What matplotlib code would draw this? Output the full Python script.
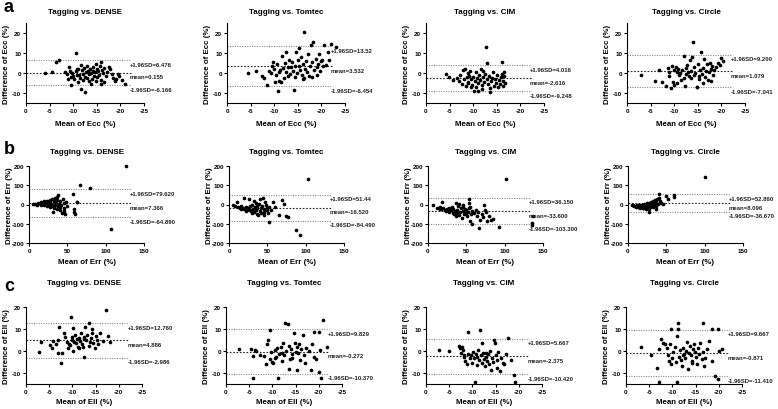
import matplotlib
matplotlib.use("Agg")
import matplotlib.pyplot as plt

plt.rcParams["font.family"] = ["Liberation Sans", "DejaVu Sans"]
plt.rcParams["font.weight"] = "bold"
plt.rcParams["axes.unicode_minus"] = False

# -----------------------------------------------------
# DATA  (mean of two methods, difference)
# -----------------------------------------------------
methods = ["DENSE", "Tomtec", "CIM", "Circle"]
params = ["Ecc", "Err", "Ell"]

ecc_dense = [(-4.1,0.0),(-5.5,0.7),(-6.4,5.4),(-6.9,6.6),(-8.3,0.5),(-8.7,-0.5),(-8.9,-3.2),(-9.1,3.0),(-9.3,1.0),(-9.5,-2.0),
             (-9.6,-6.1),(-9.8,0.2),(-10.0,-1.5),(-10.2,-3.0),(-10.5,10.0),(-10.6,0.8),(-10.8,-0.8),(-11.0,2.2),(-11.2,-1.0),(-11.4,-2.5),
             (-11.6,-8.1),(-11.7,4.0),(-11.9,1.5),(-12.0,-0.5),(-12.2,2.5),(-12.4,-1.8),(-12.6,-9.7),(-12.7,0.5),(-12.9,3.5),(-13.0,-2.5),
             (-13.2,1.0),(-13.4,-0.5),(-13.5,2.0),(-13.7,-5.5),(-13.8,0.0),(-14.0,-3.0),(-14.1,3.0),(-14.3,1.2),(-14.5,-1.5),(-14.6,0.5),
             (-14.8,4.5),(-15.0,2.0),(-15.1,-2.0),(-15.3,0.8),(-15.5,-1.0),(-15.6,3.5),(-15.8,-3.5),(-15.9,5.4),(-15.9,-5.5),(-16.1,1.5),
             (-16.3,-0.2),(-16.6,2.5),(-16.9,-1.5),(-17.2,0.5),(-17.5,3.0),(-17.9,2.0),(-18.2,-0.5),(-18.5,-2.5),(-19.1,-3.0),(-19.4,-0.5),
             (-19.7,-1.5),(-20.3,-3.5),(-20.9,-5.5),(-13.3,-4.0),(-12.1,-3.5),(-10.9,1.8),(-11.1,-4.5),(-14.9,-3.8),(-16.5,-4.5),(-18.8,-4.0)]
ecc_tomtec = [(-4.5,0.0),(-6.2,1.2),(-7.5,-1.4),(-7.8,-2.5),(-8.5,-6.1),(-9.0,1.0),(-9.4,0.0),(-9.5,3.4),(-9.7,5.4),(-10.0,2.0),
              (-10.3,-1.0),(-10.5,4.5),(-10.8,-9.0),(-11.1,-3.9),(-11.3,1.5),(-11.5,-4.7),(-11.7,8.5),(-11.9,2.5),(-12.2,5.0),(-12.5,10.5),
              (-12.6,0.5),(-12.9,3.0),(-13.2,6.3),(-13.4,-0.5),(-13.6,2.9),(-13.8,5.5),(-14.0,1.0),(-14.3,-8.5),(-14.4,3.5),(-14.6,10.5),
              (-14.8,0.0),(-15.0,6.5),(-15.2,12.5),(-15.3,3.7),(-15.5,1.5),(-15.7,8.0),(-15.9,-1.0),(-16.1,4.5),(-16.4,20.7),(-16.4,-2.5),
              (-16.6,2.0),(-16.8,6.0),(-17.0,0.5),(-17.2,9.5),(-17.4,-1.7),(-17.6,3.5),(-17.8,13.9),(-18.0,5.5),(-18.3,15.6),(-18.5,1.5),
              (-18.8,7.1),(-19.0,3.0),(-19.3,4.5),(-19.5,9.7),(-19.8,1.0),(-20.0,6.0),(-20.2,6.3),(-20.4,3.5),(-20.6,13.9),(-21.0,4.0),
              (-21.3,10.5),(-21.6,6.5),(-22.0,14.7),(-23.0,13.0),(-12.0,-2.5),(-13.0,-1.5),(-14.5,-2.0),(-16.0,-3.0),(-18.0,-2.0),(-19.0,-1.0),
              (-11.0,0.5),(-10.2,-4.5)]
ecc_cim = [(-4.2,-0.3),(-4.8,-1.8),(-5.8,-3.5),(-6.5,-2.5),(-7.0,-4.0),(-7.3,-1.0),(-7.6,-5.5),(-7.9,1.5),(-8.0,-3.0),(-8.2,2.0),
           (-8.4,-6.5),(-8.6,-2.0),(-8.8,0.0),(-9.0,-4.5),(-9.2,-1.5),(-9.4,1.0),(-9.6,-3.0),(-9.8,-6.0),(-10.0,-2.0),(-10.2,-8.8),
           (-10.4,-4.0),(-10.6,0.5),(-10.8,-2.5),(-11.0,-8.8),(-11.1,-5.0),(-11.3,-1.0),(-11.5,-3.5),(-11.7,2.0),(-11.9,-6.0),(-12.1,-2.0),
           (-12.3,-4.5),(-12.5,-0.5),(-12.8,13.2),(-12.9,-3.0),(-13.0,4.8),(-13.2,-5.5),(-13.4,-1.5),(-13.6,-9.3),(-13.8,-4.0),(-14.0,-2.5),
           (-14.2,0.5),(-14.4,-6.5),(-14.6,-3.0),(-14.8,-5.0),(-15.0,-1.0),(-15.2,-7.0),(-15.4,-3.5),(-15.6,-5.5),(-15.8,-2.0),(-16.0,-0.5),
           (-16.1,5.3),(-16.3,-4.0),(-16.4,-6.5),(-16.5,-1.5),(-16.6,0.5),(-16.7,-5.0),(-12.0,1.0),(-10.5,-6.8),(-9.5,-7.0),(-13.5,-7.5),
           (-11.8,-7.8),(-8.9,-4.8)]
ecc_circle = [(-3.0,-1.2),(-6.0,-4.0),(-6.8,1.5),(-7.5,-4.5),(-8.3,-6.5),(-8.6,2.5),(-8.8,-1.5),(-9.0,0.5),(-9.3,-7.5),(-9.5,3.5),
              (-9.7,-4.5),(-9.9,-6.0),(-10.0,1.5),(-10.3,3.0),(-10.6,0.5),(-10.9,2.0),(-11.2,0.0),(-11.5,-3.5),(-11.7,1.5),(-12.0,-2.5),
              (-12.1,8.5),(-12.3,-6.5),(-12.6,2.5),(-12.8,4.0),(-13.0,0.5),(-13.2,-1.5),(-13.4,6.5),(-13.6,1.0),(-13.8,8.0),(-14.0,15.5),
              (-14.1,-1.0),(-14.3,3.0),(-14.5,0.0),(-14.8,-6.8),(-14.9,-7.2),(-15.0,4.5),(-15.2,-1.5),(-15.5,1.5),(-15.7,10.3),(-15.9,-0.5),
              (-16.1,2.5),(-16.3,7.0),(-16.5,-2.0),(-16.7,1.0),(-16.9,4.5),(-17.1,-3.5),(-17.3,0.5),(-17.5,5.0),(-17.7,-4.0),(-17.9,2.0),
              (-18.1,3.5),(-18.3,-1.0),(-18.5,1.5),(-18.8,3.0),(-19.2,5.0),(-19.6,4.0),(-19.9,7.5),(-20.3,6.0),(-12.5,-0.5),(-11.0,-1.0),
              (-13.5,-2.5),(-15.3,-3.0),(-16.0,-5.0),(-10.5,-5.0)]

err_dense = [(5,5),(8,2),(10,-5),(12,10),(14,8),(16,15),(18,12),(20,18),(22,10),(24,20),(25,-3),(26,15),(28,25),(29,5),(30,-10),
             (30,30),(31,-40),(32,18),(33,-20),(34,35),(35,10),(35,-5),(36,40),(37,25),(38,-15),(38,50),(39,5),(40,-30),(41,20),(42,-2),
             (43,-45),(44,30),(45,10),(46,-20),(47,-48),(48,15),(50,-10),(33,0),(27,-15),(20,0),(15,-2),(36,-25),(41,-12),(45,-35),
             (58,55),(59,-23),(59,-40),(60,-49),(62,12),(63,15),(66.5,100),(79.6,87),(107,-127),(126.5,200),(23,-8),(39,-8),(28,12)]
err_tomtec = [(5,-5),(8,-10),(10,12),(12,-15),(14,-20),(16,-22),(18,-18),(19,35),(20,-25),(22,-15),(24,-30),(25,-20),(26,30),
              (27,-28),(28,-10),(29,-35),(30,0),(31,-25),(32,20),(33,-40),(34,-15),(35,-30),(35,10),(36,-50),(37,-20),(38,-55),(39,5),
              (40,-35),(41,30),(42,-45),(43,-10),(44,35),(45,-25),(46,-40),(47,15),(48,-5),(49,-30),(50,-20),(51,-45),(52,-15),(52.7,-89),
              (55,-30),(58,12),(60,-15),(65,-57),(69.5,23),(72,5),(74,-62),(77,-66),(87,-132),(93,-160),(102.7,130),(30,-45),(36,-8),
              (22,-35),(15,-8),(42,-20),(45,-55)]
err_cim = [(6,-5),(12,-20),(14,-18),(15,-25),(16,-15),(17,-22),(18,15),(20,-20),(22,-30),(24,-35),(25,-25),(27,-40),(28,-20),
           (30,-30),(31,-15),(32,-45),(33,-25),(34,-50),(35,-35),(36,10),(37,-60),(38,-30),(39,-10),(40,-55),(41,5),(42,-40),(43,-20),
           (44,-70),(45,-35),(46,0),(47,-50),(48,-25),(49,-45),(50,-30),(51,-60),(52,-40),(53,10),(53,30),(54,-20),(55,-85),(56,-50),
           (57,-35),(58,-100),(60,-45),(62,-30),(64,-60),(65,-40),(67,-120),(68,-80),(70,-50),(72,-65),(73,0),(74,-30),(75,-40),
           (77,-85),(80,-60),(82,-80),(85,-75),(92,-118),(101.7,131),(137,-61),(136,-96),(136,-105),(45,-15),(38,-45),(28,-35),(55,-15)]
err_circle = [(5,0),(7,-5),(8,-10),(10,-8),(11,-15),(12,-5),(13,-12),(14,-8),(15,0),(16,-18),(17,-10),(18,-3),(19,-20),(20,-8),
              (21,5),(22,-12),(23,-25),(24,0),(25,10),(26,-5),(27,-40),(28,8),(29,-15),(30,15),(30,-10),(31,5),(32,20),(33,-5),(34,10),
              (35,25),(35,0),(36,15),(37,-8),(38,30),(39,5),(40,35),(41,56),(42,20),(43,10),(45,5),(50,42),(52,30),(60.6,50),(60.6,38),
              (100.9,143),(20,-20),(25,-15),(28,-22),(33,-15),(15,-15),(36,-25)]

ell_dense = [(-2.9,-0.3),(-3.2,4.2),(-5.2,2.7),(-5.5,1.2),(-5.9,4.5),(-6.5,3.2),(-6.8,5.0),(-7.0,-0.8),(-7.2,10.8),(-7.5,-5.3),
             (-7.7,-0.8),(-8.1,8.3),(-8.4,6.5),(-8.8,4.2),(-9.2,3.0),(-9.5,2.7),(-9.7,15.6),(-9.9,5.0),(-10.1,10.3),(-10.2,0.0),
             (-10.4,4.0),(-10.6,7.3),(-10.8,3.5),(-11.0,5.5),(-11.2,2.0),(-11.4,6.0),(-11.6,4.5),(-11.8,8.0),(-12.0,3.0),(-12.2,2.0),
             (-12.4,-2.9),(-12.6,6.5),(-12.8,11.0),(-13.0,5.0),(-13.2,7.5),(-13.5,12.6),(-13.7,4.0),(-14.0,6.0),(-14.3,8.0),(-14.5,3.5),
             (-14.9,1.2),(-15.0,7.0),(-15.2,5.0),(-15.5,3.0),(-16.0,8.0),(-16.5,4.5),(-17.3,18.5),(-17.6,6.8),(-18.2,4.2),(-11.5,1.5),
             (-12.5,5.5),(-10.0,6.5),(-9.0,1.5),(-13.5,2.5),(-14.2,10.0)]
ell_tomtec = [(-2.9,0.9),(-5.3,0.9),(-5.8,-2.3),(-5.9,-12.4),(-6.2,0.3),(-6.5,0.0),(-7.3,-1.8),(-8.2,-2.3),(-8.6,-6.1),(-8.9,3.2),
              (-9.1,5.0),(-9.4,9.5),(-9.5,-3.8),(-9.7,-0.5),(-9.9,-4.8),(-10.1,-5.6),(-10.5,0.5),(-10.8,-2.8),(-11.0,1.5),(-11.3,-12.4),
              (-11.5,-1.5),(-11.8,2.0),(-12.0,-0.8),(-12.2,3.5),(-12.5,-2.0),(-12.8,12.6),(-13.0,0.0),(-13.3,12.3),(-13.5,-8.2),(-13.6,2.5),
              (-13.8,-3.8),(-14.0,1.0),(-14.3,-1.5),(-14.6,8.0),(-14.8,3.5),(-15.0,-0.5),(-15.2,2.0),(-15.4,-8.6),(-15.6,-1.0),(-15.8,3.0),
              (-16.0,-4.0),(-16.2,1.0),(-16.5,7.5),(-16.8,-2.0),(-17.0,-5.5),(-17.3,1.5),(-17.8,-0.2),(-18.3,-8.6),(-18.5,3.0),(-18.9,-2.9),
              (-19.0,8.8),(-19.3,-3.5),(-20.0,8.8),(-20.1,-9.4),(-20.3,0.5),(-20.4,-12.4),(-21.0,14.0),(-21.8,1.7),(-12.0,-4.5),(-10.6,-3.0),
              (-14.2,-3.0)]
ell_cim = [(-2.8,0.5),(-5.0,0.0),(-7.1,2.3),(-7.3,1.5),(-7.5,-1.0),(-7.7,2.0),(-7.9,0.5),(-8.1,-2.5),(-8.2,-1.8),(-8.4,-4.4),
           (-8.8,-6.0),(-9.1,8.8),(-9.4,-3.3),(-9.7,-2.0),(-10.0,-5.5),(-10.2,-0.5),(-10.4,-3.0),(-10.6,-13.9),(-10.8,-1.5),(-11.0,-6.5),
           (-11.2,0.5),(-11.4,-4.0),(-11.6,9.5),(-11.8,-2.0),(-12.0,3.5),(-12.1,-5.5),(-12.3,-1.0),(-12.5,-3.5),(-12.7,-7.0),(-12.9,-2.5),
           (-13.1,-4.5),(-13.3,-1.5),(-13.5,-6.0),(-13.7,0.0),(-14.0,-8.6),(-14.2,-3.0),(-14.4,-5.0),(-14.7,5.0),(-14.8,3.5),(-15.0,-2.0),
           (-15.2,-7.5),(-15.4,-4.0),(-15.6,-0.5),(-15.9,-9.0),(-16.2,-3.0),(-16.5,-5.5),(-16.8,-6.0),(-17.2,-1.5),(-17.6,5.8),(-18.4,-4.1),
           (-19.0,-10.9),(-19.1,-13.9),(-11.0,-2.8),(-13.0,-1.0),(-9.0,-1.5)]
ell_circle = [(-3.3,2.0),(-5.4,-2.0),(-6.7,-7.5),(-7.1,1.0),(-7.2,-14.3),(-7.5,5.3),(-8.0,3.5),(-8.5,3.0),(-8.8,1.5),(-9.0,-2.0),
              (-9.2,-4.5),(-9.4,3.0),(-9.6,9.8),(-9.8,-6.0),(-10.0,-3.0),(-10.2,-0.5),(-10.5,2.0),(-10.7,-5.0),(-10.9,6.8),(-10.9,-14.3),
              (-11.1,9.8),(-11.2,12.8),(-11.4,-2.5),(-11.6,0.5),(-11.8,-4.0),(-12.0,-6.8),(-12.2,1.5),(-12.5,-1.5),(-12.8,-3.0),(-13.0,0.0),
              (-13.2,4.0),(-13.4,-8.3),(-13.6,-1.0),(-13.8,2.5),(-14.0,-2.0),(-14.3,-4.5),(-14.5,1.0),(-14.7,3.0),(-14.9,-0.5),(-15.1,-2.5),
              (-15.3,-6.0),(-15.5,1.5),(-15.8,-1.5),(-16.0,3.5),(-16.3,-3.5),(-16.5,-0.5),(-16.7,12.8),(-16.9,-7.0),(-17.1,-3.0),(-17.4,1.0),
              (-17.8,4.5),(-18.5,-4.5),(-18.6,9.8),(-19.2,-11.3),(-19.8,9.8),(-19.9,-12.8),(-20.0,0.0),(-20.7,0.8),(-12.3,-2.0),(-14.2,-5.5)]

# limits of agreement as printed
ecc_upper = ["6.476", "13.52", "4.016", "9.200"]
ecc_mean = ["0.155", "3.532", "-2.616", "1.079"]
ecc_lower = ["-6.166", "-6.454", "-9.248", "-7.041"]
err_upper = ["79.620", "51.44", "36.150", "52.860"]
err_mean = ["7.366", "-16.520", "-33.600", "8.096"]
err_lower = ["-64.890", "-84.490", "-103.300", "-36.670"]
ell_upper = ["12.760", "9.829", "5.667", "9.667"]
ell_mean = ["4.886", "-0.272", "-2.375", "-0.871"]
ell_lower = ["-2.986", "-10.370", "-10.420", "-11.410"]

points = [[ecc_dense, ecc_tomtec, ecc_cim, ecc_circle],
          [err_dense, err_tomtec, err_cim, err_circle],
          [ell_dense, ell_tomtec, ell_cim, ell_circle]]
uppers = [ecc_upper, err_upper, ell_upper]
means = [ecc_mean, err_mean, ell_mean]
lowers = [ecc_lower, err_lower, ell_lower]

# -----------------------------------------------------
# LAYOUT (pixels)
# -----------------------------------------------------
W, H = 778, 410
row_lefts = [[26, 227, 426, 627], [29, 229, 428, 628], [26, 226, 426, 626]]
row_width = [118, 115, 116]
row_top = [24, 167, 308]
row_bottom = [104, 244, 385]
title_y = [12.5, 153, 284]
xlabel_y = [125, 263, 403]
letter_y = [8, 149, 287]
xlims = [(0, -25), (0, 150), (0, -25)]
ylims = [(-15, 25), (-200, 200), (-15, 20)]
xticks = [[0, -5, -10, -15, -20, -25], [0, 50, 100, 150], [0, -5, -10, -15, -20, -25]]
yticks = [[-10, 0, 10, 20], [-200, -100, 0, 100, 200], [-10, 0, 10, 20]]

fig = plt.figure(figsize=(W / 100, H / 100), dpi=100)

for r in range(3):
    fig.text(4 / W, 1 - letter_y[r] / H, "abc"[r], fontsize=13, fontweight="bold", ha="left", va="center")
    for c in range(4):
        left = row_lefts[r][c]
        w = row_width[r]
        top, bot = row_top[r], row_bottom[r]
        ax = fig.add_axes([left / W, 1 - bot / H, w / W, (bot - top) / H])

        pts = points[r][c]
        ax.scatter([p[0] for p in pts], [p[1] for p in pts], s=7, c="black", linewidths=0, clip_on=False, zorder=3)

        x0, x1 = xlims[r]
        xend = x0 + 0.89 * (x1 - x0)
        for txt, prefix, col, ls in [(uppers[r][c], "+1.96SD=", "#8c8c8c", (0, (1, 1.2))),
                                     (means[r][c], "mean=", "#222222", (0, (1.5, 1.5))),
                                     (lowers[r][c], "-1.96SD=", "#8c8c8c", (0, (1, 1.2)))]:
            v = float(txt)
            ax.plot([x0, xend], [v, v], color=col, lw=0.8, linestyle=ls, zorder=2)
            ax.annotate(prefix + txt, xy=(xend, v), xytext=(-1, -1.2), textcoords="offset points",
                        ha="left", va="top", fontsize=4.3, fontweight="bold", color="#222222",
                        annotation_clip=False)

        ax.set_xlim(xlims[r])
        ax.set_ylim(ylims[r])
        ax.set_xticks(xticks[r])
        ax.set_yticks(yticks[r])
        ax.tick_params(labelsize=4.5, length=2, width=0.8, pad=1.5)
        for lab in ax.get_xticklabels() + ax.get_yticklabels():
            lab.set_fontweight("bold")
        for s in ["top", "right"]:
            ax.spines[s].set_visible(False)
        for s in ["left", "bottom"]:
            ax.spines[s].set_linewidth(0.8)

        ax.set_xlabel(f"Mean of {params[r]} (%)", fontsize=5.7, fontweight="bold")
        ax.xaxis.set_label_coords(0.5, -(xlabel_y[r] - 4 - bot) / (bot - top))
        ax.set_ylabel(f"Difference of {params[r]} (%)", fontsize=5.7, fontweight="bold")
        ax.yaxis.set_label_coords(-16 / w, 0.5)

        fig.text((left + w / 2) / W, 1 - title_y[r] / H, f"Tagging vs. {methods[c]}",
                 fontsize=5.8, fontweight="bold", ha="center", va="center")

fig.savefig("out.png", dpi=100)
